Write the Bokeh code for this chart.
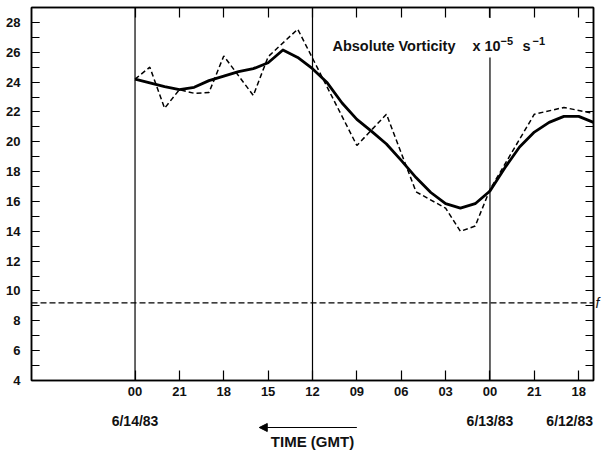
from bokeh.plotting import figure
from bokeh.layouts import column
from bokeh.models import (Range1d, LinearAxis, FixedTicker, Span, Label, Arrow, NormalHead,
                          BoxAnnotation)
from bokeh.core.properties import value
from bokeh.embed import file_html
from bokeh.resources import INLINE

# ---- data (hours after 6/12/83 00 GMT; time runs right-to-left) ----
smooth_hours = [48, 47, 46, 45, 44, 43, 42, 41, 40, 39, 38, 37, 36, 35, 34, 33,
                32, 31, 30, 29, 28, 27, 26, 25, 24, 23, 22, 21, 20, 19, 18, 17]
smooth_vort = [24.2, 23.95, 23.7, 23.5, 23.65, 24.1, 24.4, 24.7, 24.9, 25.3, 26.15, 25.65,
               24.9, 23.95, 22.6, 21.5, 20.7, 19.85, 18.75, 17.6, 16.6, 15.85, 15.55, 15.85,
               16.7, 18.25, 19.65, 20.65, 21.3, 21.7, 21.7, 21.3]
obs_hours = [48, 47, 46, 45, 44, 43, 42, 40, 39, 37, 33, 31, 29, 27, 26, 25, 24, 21, 19, 17]
obs_vort = [24.2, 25.0, 22.25, 23.5, 23.25, 23.3, 25.75, 23.1, 25.7, 27.55, 19.75, 21.85,
            16.65, 15.55, 14.0, 14.35, 16.8, 21.85, 22.3, 21.9]
coriolis_f = 9.2
tick_hours = [48, 45, 42, 39, 36, 33, 30, 27, 24, 21, 18]
tick_labels = ["00", "21", "18", "15", "12", "09", "06", "03", "00", "21", "18"]
ref_hours = [48, 36, 24]
date_hours = [48, 24, 18]
date_labels = ["6/14/83", "6/13/83", "6/12/83"]
y_major = list(range(4, 29, 2))
y_minor = list(range(4, 30))

FONT = "Liberation Sans"
INK = "#111111"
X_RANGE = Range1d(55, 17)

p = figure(frame_width=562, frame_height=373,
           x_range=X_RANGE, y_range=Range1d(4, 29),
           output_backend="svg", toolbar_location=None,
           min_border_left=31, min_border_right=10, min_border_top=7, min_border_bottom=22,
           background_fill_color="white", border_fill_color="white")
p.xgrid.visible = False
p.ygrid.visible = False
p.outline_line_color = "black"
p.outline_line_width = 1.5


def style_axis(ax, tick_len, labels=True):
    ax.axis_line_color = "black"
    ax.axis_line_width = 1.5
    ax.major_tick_in = tick_len
    ax.major_tick_out = 0
    ax.minor_tick_in = tick_len
    ax.minor_tick_out = 0
    ax.major_tick_line_color = "black"
    ax.minor_tick_line_color = "black"
    ax.major_tick_line_width = 1.2
    ax.minor_tick_line_width = 1.2
    if labels:
        ax.major_label_text_font = FONT
        ax.major_label_text_font_style = "bold"
        ax.major_label_text_font_size = "13px"
        ax.major_label_text_color = INK
    else:
        ax.major_label_text_font_size = "0px"
        ax.major_label_standoff = 0


xb = p.xaxis[0]
xb.ticker = FixedTicker(ticks=tick_hours)
xb.major_label_overrides = {h: l for h, l in zip(tick_hours, tick_labels)}
style_axis(xb, 10)
xb.minor_tick_in = 0
xb.major_label_standoff = 6

yl = p.yaxis[0]
yl.ticker = FixedTicker(ticks=y_major, minor_ticks=y_minor)
style_axis(yl, 8)
yl.major_label_standoff = 11

xt = LinearAxis(ticker=FixedTicker(ticks=tick_hours),
                major_label_overrides={h: "" for h in tick_hours})
style_axis(xt, 10, labels=False)
xt.minor_tick_in = 0
p.add_layout(xt, "above")

# right axis: unit ticks, and the "f" marker of the Coriolis line as its only label
yr = LinearAxis(ticker=FixedTicker(ticks=[coriolis_f], minor_ticks=y_minor),
                major_label_overrides={coriolis_f: "f"})
style_axis(yr, 8)
yr.major_tick_in = 0
yr.major_label_standoff = 2
yr.major_label_text_font_style = "italic"
yr.major_label_text_font_size = "14px"
p.add_layout(yr, "right")

# reference verticals and Coriolis parameter line
for h in ref_hours:
    p.add_layout(Span(location=h, dimension="height", line_color="black", line_width=1.2))
p.add_layout(Span(location=coriolis_f, dimension="width", line_color="black",
                  line_width=1.2, line_dash="6 3"))

# data
p.line(obs_hours, obs_vort, line_color="black", line_width=1.5, line_dash="5 3")
p.line(smooth_hours, smooth_vort, line_color="black", line_width=2.8, line_join="round")

# white patch behind the title where it crosses the 00 GMT 6/13 line
p.add_layout(BoxAnnotation(left=24.35, right=23.65, bottom=25.65, top=28.3,
                           fill_color="white", fill_alpha=1.0, line_color=None))

# title inside plot
title_x, title_y = 34.65, 26.4
title_parts = [("Absolute Vorticity", 0, 0, "14.5px"),
               ("x 10", 140, 0, "14.5px"),
               ("\u22125", 168, 5, "11px"),
               ("s", 190, 0, "14.5px"),
               ("\u22121", 200, 5, "11px")]
for txt, dx, dy, fs in title_parts:
    p.add_layout(Label(x=title_x, y=title_y, x_offset=dx, y_offset=dy, text=txt,
                       text_font=FONT, text_font_style="bold", text_font_size=fs,
                       text_color=INK, text_baseline="alphabetic"))

# ---- strip below the axis: dates, arrow and axis title ----
p2 = figure(frame_width=562, frame_height=50, x_range=X_RANGE, y_range=Range1d(50, 0),
            x_axis_type=None, y_axis_type=None,
            output_backend="svg", toolbar_location=None,
            min_border_left=31, min_border_right=10, min_border_top=0, min_border_bottom=0,
            background_fill_color="white", border_fill_color="white")
p2.grid.visible = False
p2.outline_line_color = None

p2.text(x=date_hours, y=[18, 18, 18], text=date_labels, x_offset=[0, 0, -9],
        text_font=value(FONT), text_font_style="bold", text_font_size="14px",
        text_color=INK, text_align="center", text_baseline="middle")
p2.add_layout(Arrow(end=NormalHead(size=8, fill_color="black", line_color="black"),
                    x_start=33.0, y_start=25, x_end=39.6, y_end=25,
                    line_color="black", line_width=1.2))
p2.text(x=[36], y=[39], text=["TIME (GMT)"],
        text_font=value(FONT), text_font_style="bold", text_font_size="15px",
        text_color=INK, text_align="center", text_baseline="middle")

layout = column(p, p2, spacing=0)
open("out.html", "w").write(file_html(layout, INLINE))
